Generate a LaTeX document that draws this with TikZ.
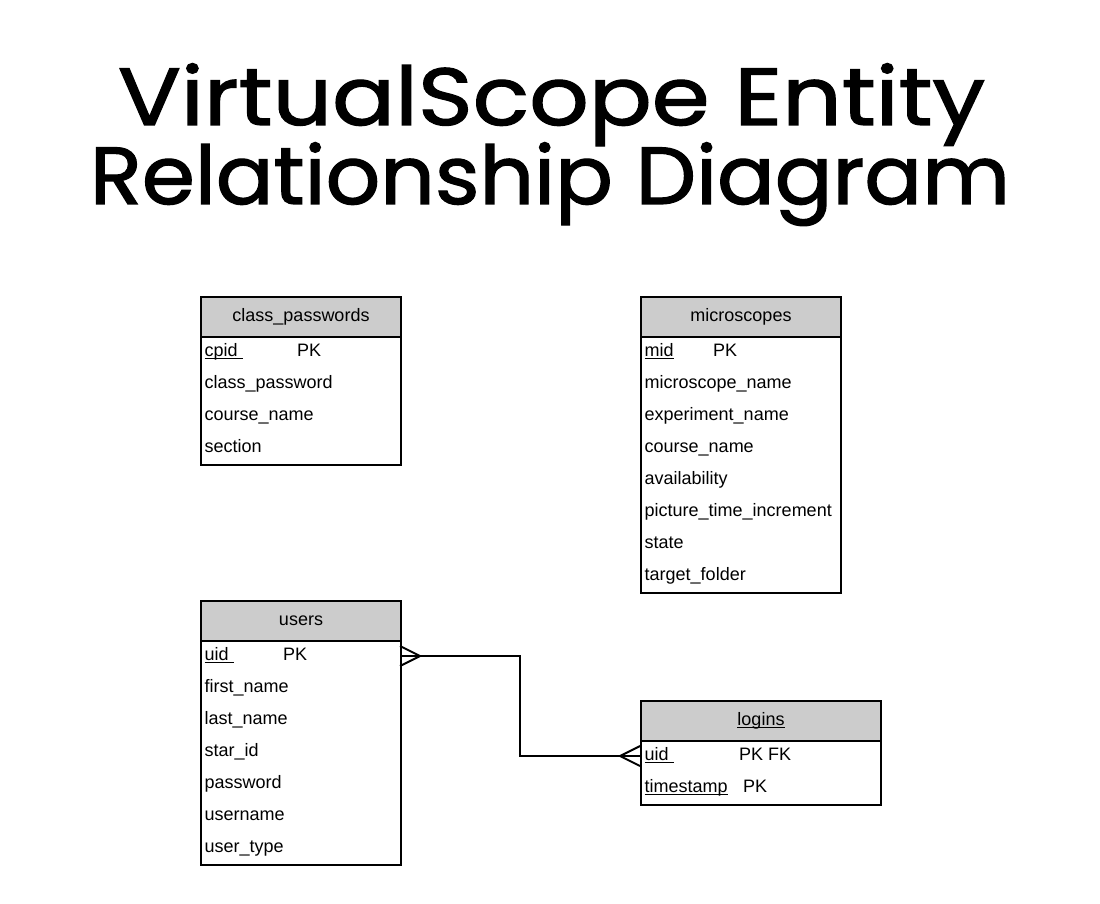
\documentclass[tikz,border=0pt]{standalone}
\usepackage{fontspec}
\setmainfont{Liberation Sans}
\newfontfamily\titlefont{Poppins}[FakeBold=1.5]
\usepackage{graphicx}
\newcommand\myul[1]{\sbox0{#1}\rlap{\rule[-2.8pt]{\wd0}{1.3pt}}\usebox0}
\tikzset{
  tbox/.style={draw, line width=2pt, anchor=north west, inner sep=0pt},
  hdr/.style={tbox, fill=hdrgray, minimum height=40pt, text height=12pt, text depth=4pt, font=\fontsize{18}{20}\selectfont},
  fld/.style={anchor=base west, inner sep=0pt, font=\fontsize{18}{20}\selectfont},
  conn/.style={draw, line width=2pt},
  ttl/.style={anchor=base, inner sep=0pt, font=\titlefont\fontsize{90}{79}\selectfont}
}
\definecolor{hdrgray}{HTML}{CCCCCC}
\begin{document}
\begin{tikzpicture}[x=1pt,y=-1pt]
\useasboundingbox (0,0) rectangle (1100,904);
% title
\node[ttl] (title) at (550,125) {\vtop{\baselineskip=79pt\lineskiplimit=-200pt\relax
  \hbox to 920pt{\hskip3pt\hss\resizebox{867pt}{0.9\height}{VirtualScope Entity}\hss}
  \hbox to 920pt{\resizebox{920pt}{0.9\height}{Relationship Diagram}}}};
% class_passwords
\node[tbox, minimum width=200pt, minimum height=128pt] (cpb) at (200,336) {};
\node[hdr, minimum width=200pt] (cph) at (200,296) {class\_passwords};
\node[fld] (cp1) at (204.5,356) {\myul{cpid\ }};
\node[fld] (cp1k) at (297,356) {PK};
\node[fld] (cp2) at (204.5,388) {class\_password};
\node[fld] (cp3) at (204.5,420) {course\_name};
\node[fld] (cp4) at (204.5,452) {section};
% microscopes
\node[tbox, minimum width=200pt, minimum height=256pt] (mb) at (640,336) {};
\node[hdr, minimum width=200pt] (mh) at (640,296) {microscopes};
\node[fld] (m1) at (644.5,356) {\myul{mid}};
\node[fld] (m1k) at (713,356) {PK};
\node[fld] (m2) at (644.5,388) {microscope\_name};
\node[fld] (m3) at (644.5,420) {experiment\_name};
\node[fld] (m4) at (644.5,452) {course\_name};
\node[fld] (m5) at (644.5,484) {availability};
\node[fld] (m6) at (644.5,516) {picture\_time\_increment};
\node[fld] (m7) at (644.5,548) {state};
\node[fld] (m8) at (644.5,580) {target\_folder};
% users
\node[tbox, minimum width=200pt, minimum height=224pt] (ub) at (200,640) {};
\node[hdr, minimum width=200pt] (uh) at (200,600) {users};
\node[fld] (u1) at (204.5,660) {\myul{uid\ }};
\node[fld] (u1k) at (283,660) {PK};
\node[fld] (u2) at (204.5,692) {first\_name};
\node[fld] (u3) at (204.5,724) {last\_name};
\node[fld] (u4) at (204.5,756) {star\_id};
\node[fld] (u5) at (204.5,788) {password};
\node[fld] (u6) at (204.5,820) {username};
\node[fld] (u7) at (204.5,852) {user\_type};
% logins
\node[tbox, minimum width=240pt, minimum height=64pt] (lb) at (640,740) {};
\node[hdr, minimum width=240pt] (lh) at (640,700) {\myul{logins}};
\node[fld] (l1) at (644.5,760) {\myul{uid\ }};
\node[fld] (l1k) at (739,760) {PK FK};
\node[fld] (l2) at (644.5,792) {\myul{timestamp}};
\node[fld] (l2k) at (743,792) {PK};
% connector
\coordinate (ua) at (400,656);
\coordinate (la) at (640,756);
\draw[conn] (ua) -- ++(120,0) |- (la);
\draw[conn] (ua) ++(0,-10) -- ++(20,10) -- ++(-20,10);
\draw[conn] (la) ++(0,-10) -- ++(-20,10) -- ++(20,10);
\end{tikzpicture}
\end{document}
